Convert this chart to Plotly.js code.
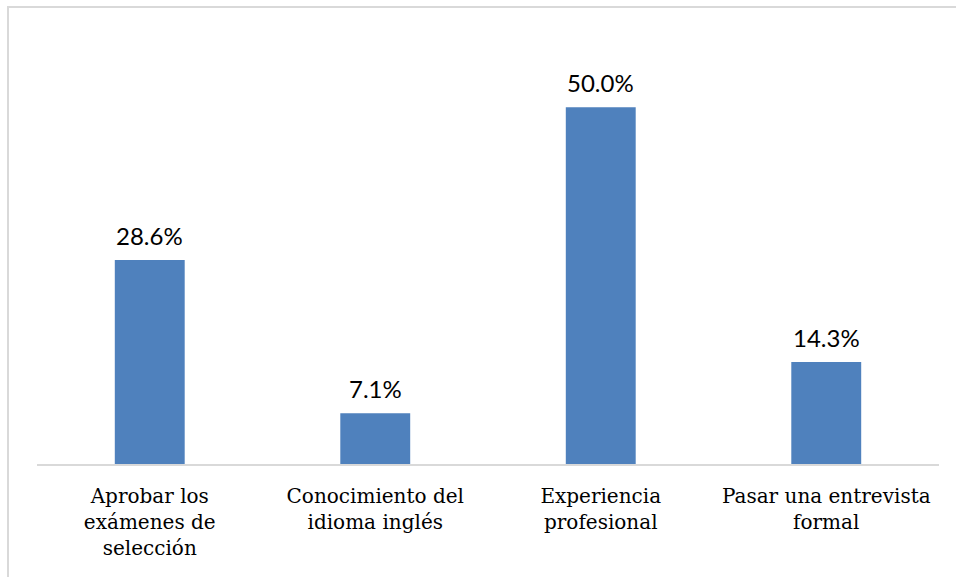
<!DOCTYPE html>
<html><head><meta charset="utf-8">
<script src="https://cdn.plot.ly/plotly-3.0.1.min.js"></script>
<style>
html,body{margin:0;padding:0;background:#fff;overflow:hidden}
#wrap{position:relative;width:956px;height:577px}
#chart{position:absolute;left:0;top:0;width:956px;height:577px}
#frame{position:absolute;left:7px;top:6px;width:960px;height:600px;border:2px solid #d9d9d9;pointer-events:none;box-sizing:border-box}
</style></head>
<body><div id="wrap"><div id="chart"></div><div id="frame"></div></div>
<script>
const categories = ["Aprobar los<br>exámenes de<br>selección", "Conocimiento del<br>idioma inglés", "Experiencia<br>profesional", "Pasar una entrevista<br>formal"];
const values = [28.6, 7.1, 50.0, 14.3];
const labels = values.map(v => v.toFixed(1) + "%");

Plotly.newPlot("chart", [{
  type: "bar",
  x: categories,
  y: values,
  text: labels,
  textposition: "none",
  marker: {color: "#4f81bd"},
  width: 0.31,
  hoverinfo: "skip"
}], {
  width: 956, height: 577,
  margin: {l: 37, r: 17, t: 36, b: 113},
  paper_bgcolor: "#fff", plot_bgcolor: "#fff",
  showlegend: false,
  xaxis: {
    showline: true, linecolor: "#d9d9d9", linewidth: 2,
    ticks: "", showgrid: false, zeroline: false,
    tickfont: {family: "DejaVu Serif, Liberation Serif, serif", size: 20, color: "#000"},
    ticklabelstandoff: 13
  },
  yaxis: {range: [0, 60], visible: false, showgrid: false, zeroline: false},
  annotations: values.map((v, i) => ({
    x: categories[i], y: v, xref: "x", yref: "y",
    text: labels[i], showarrow: false, yanchor: "bottom", yshift: 8,
    font: {family: "Lato, Open Sans, sans-serif", size: 24, color: "#000"}
  }))
}, {displayModeBar: false, staticPlot: true});
</script></body></html>
